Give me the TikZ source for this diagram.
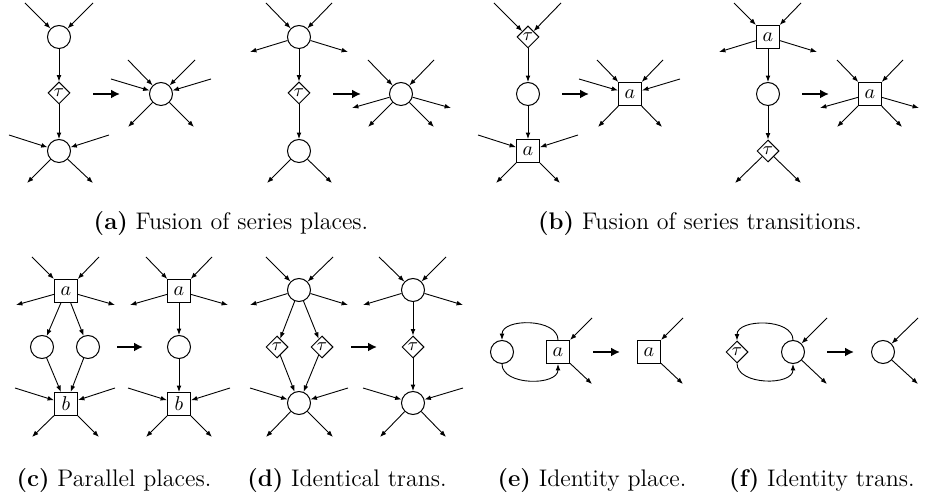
\documentclass[tikz,border=0pt]{standalone}
\usetikzlibrary{shapes.geometric,arrows.meta}
\begin{document}
\begin{tikzpicture}[x=0.5pt,y=-0.5pt,
 pl/.style={circle,draw,line width=0.5pt,minimum size=11.5pt,inner sep=0pt},
 tr/.style={rectangle,draw,line width=0.5pt,minimum size=11.5pt,inner sep=0pt},
 tau/.style={diamond,draw,line width=0.5pt,minimum size=11pt,inner sep=0pt,font=\small},
 arr/.style={-{Latex[length=3.2pt,width=2.4pt]},line width=0.45pt},
 big/.style={-{Latex[length=4.5pt,width=4.5pt]},line width=1.4pt},
 captxt/.style={font=\large,anchor=base}]
\useasboundingbox (0,0) rectangle (926,501);
% ---------- (a) first rule
\node[pl] (aP1) at (59,37) {};
\node[tau] (aT) at (59,93) {$\tau$};
\node[pl] (aP2) at (59,151) {};
\draw[arr] (25,3) coordinate (aI1) -- (aP1);
\draw[arr] (93,3) coordinate (aI2) -- (aP1);
\draw[arr] (aP1) -- (aT);
\draw[arr] (aT) -- (aP2);
\draw[arr] (9,135) coordinate (aI3) -- (aP2);
\draw[arr] (109,135) coordinate (aI4) -- (aP2);
\draw[arr] (aP2) -- (27,183) coordinate (aO1);
\draw[arr] (aP2) -- (93,183) coordinate (aO2);
\coordinate (aB1) at (93,94); \coordinate (aB2) at (120,94);
\draw[big] (aB1) -- (aB2);
\node[pl] (aR) at (161,94) {};
\draw[arr] (128,60) coordinate (aRI1) -- (aR);
\draw[arr] (195,60) coordinate (aRI2) -- (aR);
\draw[arr] (111,79) coordinate (aRI3) -- (aR);
\draw[arr] (211,79) coordinate (aRI4) -- (aR);
\draw[arr] (aR) -- (128,127) coordinate (aRO1);
\draw[arr] (aR) -- (194,127) coordinate (aRO2);
% ---------- (a) second rule
\node[pl] (a2P1) at (299,37) {};
\node[tau] (a2T) at (299,93) {$\tau$};
\node[pl] (a2P2) at (299,151) {};
\draw[arr] (266,3) coordinate (a2I1) -- (a2P1);
\draw[arr] (332,3) coordinate (a2I2) -- (a2P1);
\draw[arr] (a2P1) -- (250,52) coordinate (a2O1);
\draw[arr] (a2P1) -- (348,52) coordinate (a2O2);
\draw[arr] (a2P1) -- (a2T);
\draw[arr] (a2T) -- (a2P2);
\draw[arr] (a2P2) -- (267,183) coordinate (a2O3);
\draw[arr] (a2P2) -- (332,183) coordinate (a2O4);
\coordinate (a2B1) at (333,94); \coordinate (a2B2) at (361,94);
\draw[big] (a2B1) -- (a2B2);
\node[pl] (a2R) at (401,94) {};
\draw[arr] (368,60) coordinate (a2RI1) -- (a2R);
\draw[arr] (434,60) coordinate (a2RI2) -- (a2R);
\draw[arr] (a2R) -- (352,108) coordinate (a2RO1);
\draw[arr] (a2R) -- (451,108) coordinate (a2RO2);
\draw[arr] (a2R) -- (368,127) coordinate (a2RO3);
\draw[arr] (a2R) -- (434,127) coordinate (a2RO4);
% ---------- (b) first rule
\node[tau] (bT) at (528,37) {$\tau$};
\node[pl] (bP) at (528,94) {};
\node[tr] (bA) at (528,151) {$a$};
\draw[arr] (494,3) coordinate (bI1) -- (bT);
\draw[arr] (561,3) coordinate (bI2) -- (bT);
\draw[arr] (bT) -- (bP);
\draw[arr] (bP) -- (bA);
\draw[arr] (478,135) coordinate (bI3) -- (bA);
\draw[arr] (578,135) coordinate (bI4) -- (bA);
\draw[arr] (bA) -- (496,183) coordinate (bO1);
\draw[arr] (bA) -- (560,183) coordinate (bO2);
\coordinate (bB1) at (562,94); \coordinate (bB2) at (589,94);
\draw[big] (bB1) -- (bB2);
\node[tr] (bR) at (630,94) {$a$};
\draw[arr] (597,60) coordinate (bRI1) -- (bR);
\draw[arr] (663,60) coordinate (bRI2) -- (bR);
\draw[arr] (579,79) coordinate (bRI3) -- (bR);
\draw[arr] (680,79) coordinate (bRI4) -- (bR);
\draw[arr] (bR) -- (598,127) coordinate (bRO1);
\draw[arr] (bR) -- (662,127) coordinate (bRO2);
% ---------- (b) second rule
\node[tr] (b2A) at (768,37) {$a$};
\node[pl] (b2P) at (768,94) {};
\node[tau] (b2T) at (768,151) {$\tau$};
\draw[arr] (734,3) coordinate (b2I1) -- (b2A);
\draw[arr] (801,3) coordinate (b2I2) -- (b2A);
\draw[arr] (b2A) -- (719,52) coordinate (b2O1);
\draw[arr] (b2A) -- (817,52) coordinate (b2O2);
\draw[arr] (b2A) -- (b2P);
\draw[arr] (b2P) -- (b2T);
\draw[arr] (b2T) -- (735,183) coordinate (b2O3);
\draw[arr] (b2T) -- (801,183) coordinate (b2O4);
\coordinate (b2B1) at (802,94); \coordinate (b2B2) at (829,94);
\draw[big] (b2B1) -- (b2B2);
\node[tr] (b2R) at (870,94) {$a$};
\draw[arr] (837,60) coordinate (b2RI1) -- (b2R);
\draw[arr] (903,60) coordinate (b2RI2) -- (b2R);
\draw[arr] (b2R) -- (820,108) coordinate (b2RO1);
\draw[arr] (b2R) -- (919,108) coordinate (b2RO2);
\draw[arr] (b2R) -- (837,127) coordinate (b2RO3);
\draw[arr] (b2R) -- (902,127) coordinate (b2RO4);
% ---------- (c)
\node[tr] (cA) at (66,291) {$a$};
\node[pl] (cP1) at (42,347) {};
\node[pl] (cP2) at (88,347) {};
\node[tr] (cB) at (66,404) {$b$};
\draw[arr] (32,257) coordinate (cI1) -- (cA);
\draw[arr] (99,257) coordinate (cI2) -- (cA);
\draw[arr] (cA) -- (16,305) coordinate (cO1);
\draw[arr] (cA) -- (115,305) coordinate (cO2);
\draw[arr] (cA) -- (cP1);
\draw[arr] (cA) -- (cP2);
\draw[arr] (cP1) -- (cB);
\draw[arr] (cP2) -- (cB);
\draw[arr] (15,388) coordinate (cI3) -- (cB);
\draw[arr] (115,388) coordinate (cI4) -- (cB);
\draw[arr] (cB) -- (32,437) coordinate (cO3);
\draw[arr] (cB) -- (99,437) coordinate (cO4);
\coordinate (cB1) at (117,347); \coordinate (cB2) at (143,347);
\draw[big] (cB1) -- (cB2);
\node[tr] (cRA) at (179,291) {$a$};
\node[pl] (cRP) at (179,347) {};
\node[tr] (cRB) at (179,404) {$b$};
\draw[arr] (146,257) coordinate (cRI1) -- (cRA);
\draw[arr] (212,257) coordinate (cRI2) -- (cRA);
\draw[arr] (cRA) -- (130,305) coordinate (cRO1);
\draw[arr] (cRA) -- (228,305) coordinate (cRO2);
\draw[arr] (cRA) -- (cRP);
\draw[arr] (cRP) -- (cRB);
\draw[arr] (128,388) coordinate (cRI3) -- (cRB);
\draw[arr] (230,388) coordinate (cRI4) -- (cRB);
\draw[arr] (cRB) -- (146,437) coordinate (cRO3);
\draw[arr] (cRB) -- (212,437) coordinate (cRO4);
% ---------- (d)
\node[pl] (dP1) at (299,290) {};
\node[tau] (dT1) at (277,347) {$\tau$};
\node[tau] (dT2) at (322,347) {$\tau$};
\node[pl] (dP2) at (299,403) {};
\draw[arr] (266,257) coordinate (dI1) -- (dP1);
\draw[arr] (333,257) coordinate (dI2) -- (dP1);
\draw[arr] (dP1) -- (250,305) coordinate (dO1);
\draw[arr] (dP1) -- (348,305) coordinate (dO2);
\draw[arr] (dP1) -- (dT1);
\draw[arr] (dP1) -- (dT2);
\draw[arr] (dT1) -- (dP2);
\draw[arr] (dT2) -- (dP2);
\draw[arr] (250,388) coordinate (dI3) -- (dP2);
\draw[arr] (348,388) coordinate (dI4) -- (dP2);
\draw[arr] (dP2) -- (266,437) coordinate (dO3);
\draw[arr] (dP2) -- (333,437) coordinate (dO4);
\coordinate (dB1) at (351,347); \coordinate (dB2) at (377,347);
\draw[big] (dB1) -- (dB2);
\node[pl] (dRP1) at (413,290) {};
\node[tau] (dRT) at (413,347) {$\tau$};
\node[pl] (dRP2) at (413,403) {};
\draw[arr] (379,257) coordinate (dRI1) -- (dRP1);
\draw[arr] (446,257) coordinate (dRI2) -- (dRP1);
\draw[arr] (dRP1) -- (363,305) coordinate (dRO1);
\draw[arr] (dRP1) -- (463,305) coordinate (dRO2);
\draw[arr] (dRP1) -- (dRT);
\draw[arr] (dRT) -- (dRP2);
\draw[arr] (363,388) coordinate (dRI3) -- (dRP2);
\draw[arr] (463,388) coordinate (dRI4) -- (dRP2);
\draw[arr] (dRP2) -- (380,437) coordinate (dRO3);
\draw[arr] (dRP2) -- (446,437) coordinate (dRO4);
% ---------- (e)
\node[pl] (eP) at (502,352) {};
\node[tr] (eA) at (558,352) {$a$};
\draw[arr] (eA.north) .. controls +(0,-22) and +(0,-22) .. (eP.north);
\draw[arr] (eP.south) .. controls +(0,22) and +(0,22) .. (eA.south);
\draw[arr] (592,318) coordinate (eI) -- (eA);
\draw[arr] (eA) -- (592,384) coordinate (eO);
\coordinate (eB1) at (593,352); \coordinate (eB2) at (620,352);
\draw[big] (eB1) -- (eB2);
\node[tr] (eR) at (649,352) {$a$};
\draw[arr] (683,318) coordinate (eRI) -- (eR);
\draw[arr] (eR) -- (683,384) coordinate (eRO);
% ---------- (f)
\node[tau] (fT) at (737,352) {$\tau$};
\node[pl] (fP) at (793,352) {};
\draw[arr] (fP.north) .. controls +(0,-22) and +(0,-22) .. (fT.north);
\draw[arr] (fT.south) .. controls +(0,22) and +(0,22) .. (fP.south);
\draw[arr] (827,318) coordinate (fI) -- (fP);
\draw[arr] (fP) -- (827,384) coordinate (fO);
\coordinate (fB1) at (827,352); \coordinate (fB2) at (854,352);
\draw[big] (fB1) -- (fB2);
\node[pl] (fR) at (883,352) {};
\draw[arr] (918,318) coordinate (fRI) -- (fR);
\draw[arr] (fR) -- (918,384) coordinate (fRO);
% ---------- captions
\node[captxt] (capA) at (231,230) {\textbf{(a)} Fusion of series places.};
\node[captxt] (capB) at (700,230) {\textbf{(b)} Fusion of series transitions.};
\node[captxt] (capC) at (114,487) {\textbf{(c)} Parallel places.};
\node[captxt] (capD) at (347,487) {\textbf{(d)} Identical trans.};
\node[captxt] (capE) at (592,487) {\textbf{(e)} Identity place.};
\node[captxt] (capF) at (822,487) {\textbf{(f)} Identity trans.};
\end{tikzpicture}
\end{document}
